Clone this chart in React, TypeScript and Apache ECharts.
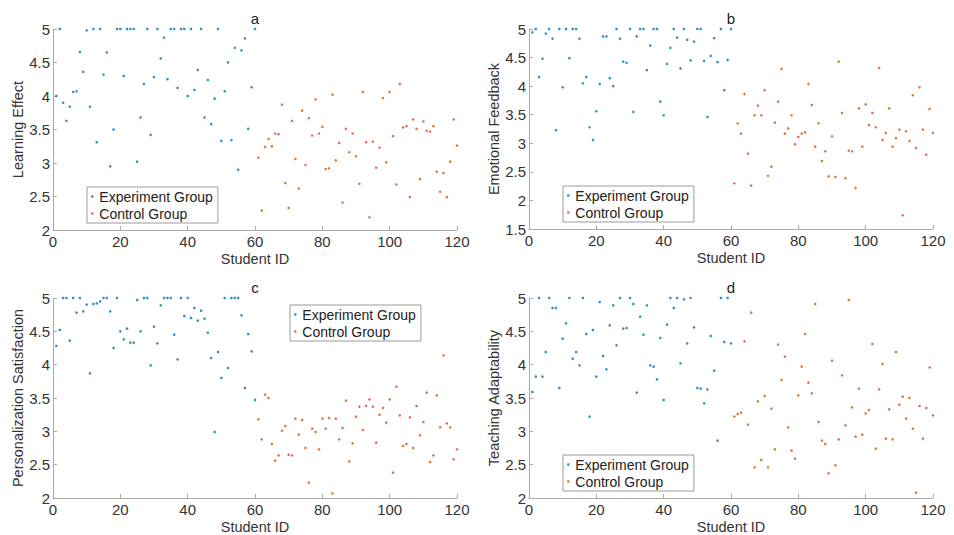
import React, { useEffect, useRef } from "react";
import * as echarts from "echarts";

const panelLetters = ["a", "b", "c", "d"];
const yAxisNames = ["Learning Effect", "Emotional Feedback", "Personalization Satisfaction", "Teaching Adaptability"];
const xAxisName = "Student ID";
const groupNames = ["Experiment Group", "Control Group"];
const yMins = [2, 1.5, 2, 2];
const yMax = 5;
const xMax = 120;

const learnExp = [4.0, 5, 3.9, 3.63, 3.84, 4.06, 4.07, 4.66, 4.36, 4.98, 3.84, 5, 3.31, 5, 4.32, 4.65, 2.95, 3.5, 5, 5, 4.3, 5, 5, 5, 3.02, 3.68, 4.18, 5, 3.42, 4.28, 5, 4.56, 4.87, 4.25, 5, 5, 4.12, 5, 5, 4.0, 5, 4.09, 4.39, 5, 3.68, 4.24, 3.58, 3.96, 5, 3.33, 4.07, 4.5, 3.34, 4.72, 2.9, 4.68, 4.86, 3.51, 4.13, 5];
const learnCtrl = [3.08, 2.29, 3.24, 3.36, 3.25, 3.44, 3.43, 3.87, 2.7, 2.33, 3.63, 3.06, 2.62, 3.78, 2.97, 3.67, 3.41, 3.95, 3.44, 3.54, 2.91, 2.92, 4.02, 3.04, 3.3, 2.41, 3.51, 3.16, 3.44, 3.1, 2.69, 4.06, 3.31, 2.19, 3.32, 2.93, 3.23, 3.97, 3.01, 4.06, 3.4, 2.68, 4.18, 3.53, 3.55, 2.49, 3.65, 3.51, 2.76, 3.62, 3.48, 3.47, 3.55, 2.87, 2.57, 2.85, 2.49, 3.02, 3.65, 3.26];
const emoExp = [4.94, 5, 4.16, 4.48, 4.92, 5, 4.83, 3.23, 5, 3.98, 5, 4.49, 5, 5, 4.83, 4.05, 4.16, 3.28, 3.06, 3.56, 4.04, 4.87, 4.87, 4.14, 4.0, 5, 4.83, 4.43, 4.41, 5, 3.55, 4.87, 5, 5, 4.28, 4.71, 5, 5, 3.73, 3.49, 4.39, 4.67, 5, 4.85, 4.31, 5, 4.81, 4.45, 4.78, 5, 5, 4.44, 3.46, 4.53, 4.84, 4.42, 5, 3.93, 4.46, 5];
const emoCtrl = [2.3, 3.35, 3.17, 3.86, 2.82, 2.26, 3.49, 3.66, 3.49, 3.93, 2.43, 2.59, 3.36, 3.73, 4.3, 3.17, 3.26, 3.49, 2.98, 3.11, 3.17, 3.19, 4.04, 3.67, 2.94, 3.35, 2.69, 2.86, 2.42, 3.12, 2.41, 4.43, 3.53, 2.39, 2.87, 2.86, 2.22, 3.61, 2.94, 3.68, 3.32, 3.53, 3.28, 4.32, 3.06, 3.18, 3.61, 2.94, 3.09, 3.24, 1.74, 3.21, 3.04, 3.84, 2.92, 3.98, 3.24, 2.8, 3.6, 3.18];
const persExp = [4.28, 4.52, 5, 5, 4.36, 5, 4.78, 5, 4.8, 4.9, 3.87, 4.91, 4.92, 4.95, 5, 5, 4.8, 4.25, 5, 4.5, 4.38, 4.54, 4.33, 4.33, 4.97, 4.5, 5, 5, 3.99, 4.57, 4.32, 4.89, 5, 5, 5, 4.45, 4.08, 5, 4.73, 5, 4.7, 4.85, 4.66, 4.81, 4.69, 4.48, 4.1, 2.99, 4.19, 3.8, 5, 3.95, 5, 5, 5, 4.74, 3.65, 4.46, 4.2, 3.47];
const persCtrl = [3.18, 2.88, 3.55, 3.5, 2.81, 2.56, 2.64, 3.01, 3.08, 2.65, 2.64, 3.19, 2.95, 3.17, 2.75, 2.23, 3.04, 2.99, 2.73, 3.19, 3.04, 3.2, 2.07, 3.19, 2.88, 3.05, 3.46, 2.55, 2.82, 3.22, 3.37, 3.02, 3.38, 3.48, 3.37, 2.83, 3.25, 3.35, 3.13, 3.48, 2.38, 3.67, 3.24, 2.78, 2.81, 3.21, 2.75, 3.38, 2.94, 3.14, 3.58, 2.54, 2.64, 3.54, 3.06, 4.14, 3.12, 3.06, 2.58, 2.73];
const teachExp = [3.59, 3.82, 5, 3.82, 4.19, 5, 4.85, 4.85, 3.65, 4.39, 4.62, 5, 4.09, 4.19, 3.99, 5, 4.46, 3.22, 4.52, 3.82, 4.94, 4.13, 3.93, 4.59, 4.89, 4.29, 5, 4.54, 4.55, 5, 4.91, 3.58, 4.72, 4.45, 4.89, 3.99, 3.97, 3.78, 4.4, 3.47, 4.6, 5, 4.85, 5, 4.02, 4.98, 4.32, 5, 4.56, 3.65, 3.64, 3.42, 3.63, 4.43, 3.91, 2.86, 5, 4.34, 5, 4.32];
const teachCtrl = [3.22, 3.26, 3.28, 4.35, 3.1, 4.78, 2.46, 3.45, 2.57, 3.53, 2.46, 3.34, 2.73, 4.3, 3.77, 4.12, 3.06, 2.71, 2.59, 3.54, 3.97, 4.46, 3.73, 3.57, 4.91, 3.14, 2.86, 2.81, 2.37, 4.06, 2.49, 2.88, 3.84, 3.09, 4.97, 3.36, 2.92, 3.64, 2.95, 3.27, 3.32, 4.31, 2.74, 3.63, 4.01, 2.89, 3.33, 2.88, 4.19, 3.4, 3.52, 3.19, 3.5, 3.04, 2.08, 3.38, 2.89, 3.35, 3.96, 3.24];

const expSets = [learnExp, emoExp, persExp, teachExp];
const ctrlSets = [learnCtrl, emoCtrl, persCtrl, teachCtrl];

const FONT = "'Liberation Sans', Arial, Helvetica, sans-serif";
const AXIS_COLOR = "#aaaaaa";
const TEXT_COLOR = "#333333";
const EXP_COLOR = "#0072BD";
const CTRL_COLOR = "#D95319";

const grids = [
  { left: 53, top: 29, width: 404, height: 201 },
  { left: 529, top: 29, width: 404, height: 200 },
  { left: 53, top: 298, width: 404, height: 200 },
  { left: 529, top: 298, width: 404, height: 200 },
];
const legendPos = [
  { left: 87, top: 187 },
  { left: 563, top: 186 },
  { left: 290, top: 305 },
  { left: 563, top: 455 },
];
const letterPos = [
  { x: 255, y: 18 },
  { x: 731, y: 18 },
  { x: 255, y: 287 },
  { x: 731, y: 287 },
];

export default function App() {
  const ref = useRef<HTMLDivElement>(null);
  useEffect(() => {
    if (!ref.current) return;
    const chart = echarts.init(ref.current, null, { renderer: "svg" });
    const xAxes = grids.map((_, i) => ({
      type: "value",
      gridIndex: i,
      min: 0,
      max: xMax,
      interval: 20,
      name: xAxisName,
      nameLocation: "middle",
      nameGap: 21,
      nameTextStyle: { fontFamily: FONT, fontSize: 14.5, color: TEXT_COLOR },
      axisLine: { show: true, onZero: false, lineStyle: { color: AXIS_COLOR, width: 1 } },
      axisTick: { show: true, inside: true, length: 4, lineStyle: { color: AXIS_COLOR } },
      axisLabel: { fontFamily: FONT, fontSize: 15, color: TEXT_COLOR, margin: 4 },
      splitLine: { show: false },
    }));
    const yAxes = grids.map((_, i) => ({
      type: "value",
      gridIndex: i,
      min: yMins[i],
      max: yMax,
      interval: 0.5,
      name: yAxisNames[i],
      nameLocation: "middle",
      nameGap: 23,
      nameTextStyle: { fontFamily: FONT, fontSize: 14.5, color: TEXT_COLOR },
      axisLine: { show: true, onZero: false, lineStyle: { color: AXIS_COLOR, width: 1 } },
      axisTick: { show: true, inside: true, length: 4, lineStyle: { color: AXIS_COLOR } },
      axisLabel: { fontFamily: FONT, fontSize: 15, color: TEXT_COLOR, margin: 3 },
      splitLine: { show: false },
    }));
    const series: any[] = [];
    expSets.forEach((vals, i) => {
      series.push({
        type: "scatter",
        name: groupNames[0],
        xAxisIndex: i,
        yAxisIndex: i,
        symbol: "circle",
        symbolSize: 2.6,
        itemStyle: { color: EXP_COLOR },
        data: vals.map((v, k) => [k + 1, v]),
      });
      series.push({
        type: "scatter",
        name: groupNames[1],
        xAxisIndex: i,
        yAxisIndex: i,
        symbol: "circle",
        symbolSize: 2.6,
        itemStyle: { color: CTRL_COLOR },
        data: ctrlSets[i].map((v, k) => [vals.length + k + 1, v]),
      });
    });
    const legends = legendPos.map((p) => ({
      left: p.left,
      top: p.top,
      orient: "vertical",
      data: groupNames,
      icon: "circle",
      itemWidth: 4,
      itemHeight: 2.6,
      itemGap: 2,
      padding: [2, 5, 2, 4],
      borderColor: "#9a9a9a",
      borderWidth: 1,
      backgroundColor: "#ffffff",
      selectedMode: false,
      textStyle: { fontFamily: FONT, fontSize: 14, color: "#222222", lineHeight: 15 },
    }));
    const graphics = letterPos.map((p, i) => ({
      type: "text",
      x: p.x,
      y: p.y,
      style: {
        text: panelLetters[i],
        fontFamily: FONT,
        fontSize: 15,
        fill: "#222222",
        textAlign: "center",
        textVerticalAlign: "middle",
      },
    }));
    chart.setOption({
      animation: false,
      backgroundColor: "#ffffff",
      grid: grids,
      xAxis: xAxes,
      yAxis: yAxes,
      legend: legends,
      series,
      graphic: graphics,
    });
    return () => chart.dispose();
  }, []);
  return <div ref={ref} style={{ position: "absolute", left: 0, top: 0, width: 954, height: 535 }} />;
}
